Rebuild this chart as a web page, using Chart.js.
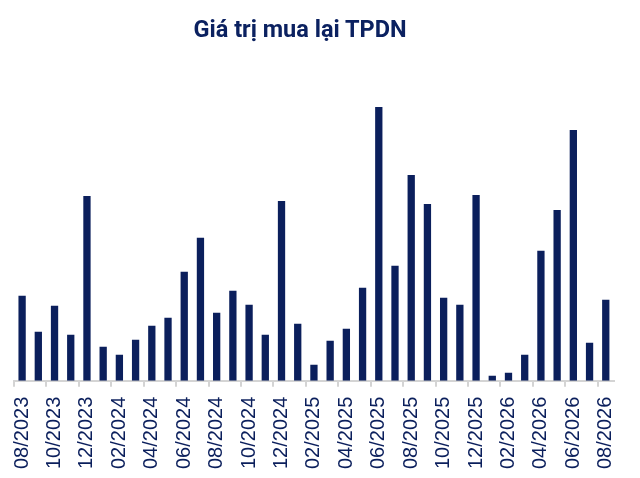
<!DOCTYPE html>
<html>
<head>
<meta charset="utf-8">
<script src="https://cdn.jsdelivr.net/npm/chart.js@4"></script>
<style>
  html, body { margin: 0; padding: 0; background: #fff; }
  #wrap { position: relative; width: 640px; height: 478px; }
  #title {
    position: absolute; left: 0; top: 15px; width: 600px;
    text-align: center; font: bold 23.5px Roboto, sans-serif; color: #0b2160;
    line-height: 28px;
  }
</style>
</head>
<body>
<div id="wrap">
  <div id="title">Giá trị mua lại TPDN</div>
  <canvas id="chart" width="640" height="478"></canvas>
</div>
<script>
const months = [
  '08/2023', '09/2023', '10/2023', '11/2023', '12/2023', '01/2024', '02/2024', '03/2024',
  '04/2024', '05/2024', '06/2024', '07/2024', '08/2024', '09/2024', '10/2024', '11/2024',
  '12/2024', '01/2025', '02/2025', '03/2025', '04/2025', '05/2025', '06/2025', '07/2025',
  '08/2025', '09/2025', '10/2025', '11/2025', '12/2025', '01/2026', '02/2026', '03/2026',
  '04/2026', '05/2026', '06/2026', '07/2026', '08/2026'
];
const values = [
  85, 49, 75, 46, 185, 34, 26, 41,
  55, 63, 109, 143, 68, 90, 76, 46,
  180, 57, 16, 40, 52, 93, 274, 115,
  206, 177, 83, 76, 186, 5, 8, 26,
  130, 171, 251, 38, 81
];

const navy = '#0b1f5c';
const axisGray = '#d4d4d4';

new Chart(document.getElementById('chart'), {
  type: 'bar',
  data: {
    labels: months,
    datasets: [{
      data: values,
      backgroundColor: navy,
      barPercentage: 0.45,
      categoryPercentage: 1
    }]
  },
  options: {
    responsive: false,
    animation: false,
    layout: { padding: { top: 101, left: 14, right: 17, bottom: -1 } },
    plugins: {
      legend: { display: false },
      tooltip: { enabled: false }
    },
    scales: {
      x: {
        border: { display: true, color: axisGray, width: 2 },
        grid: {
          offset: true,
          drawOnChartArea: false,
          drawTicks: true,
          tickLength: 6,
          lineWidth: 2,
          // tick marks only under every second month, none at the far right
          color: ctx => (ctx.index % 2 === 0 && ctx.index < months.length) ? axisGray : 'rgba(0,0,0,0)'
        },
        ticks: {
          autoSkip: false,
          minRotation: 90,
          maxRotation: 90,
          padding: 10,
          color: navy,
          font: { family: "'Liberation Sans', Arial, sans-serif", size: 20 },
          callback: (v, i) => i % 2 === 0 ? months[i] : ''
        }
      },
      y: {
        display: false,
        min: 0,
        max: 280
      }
    }
  }
});
</script>
</body>
</html>
